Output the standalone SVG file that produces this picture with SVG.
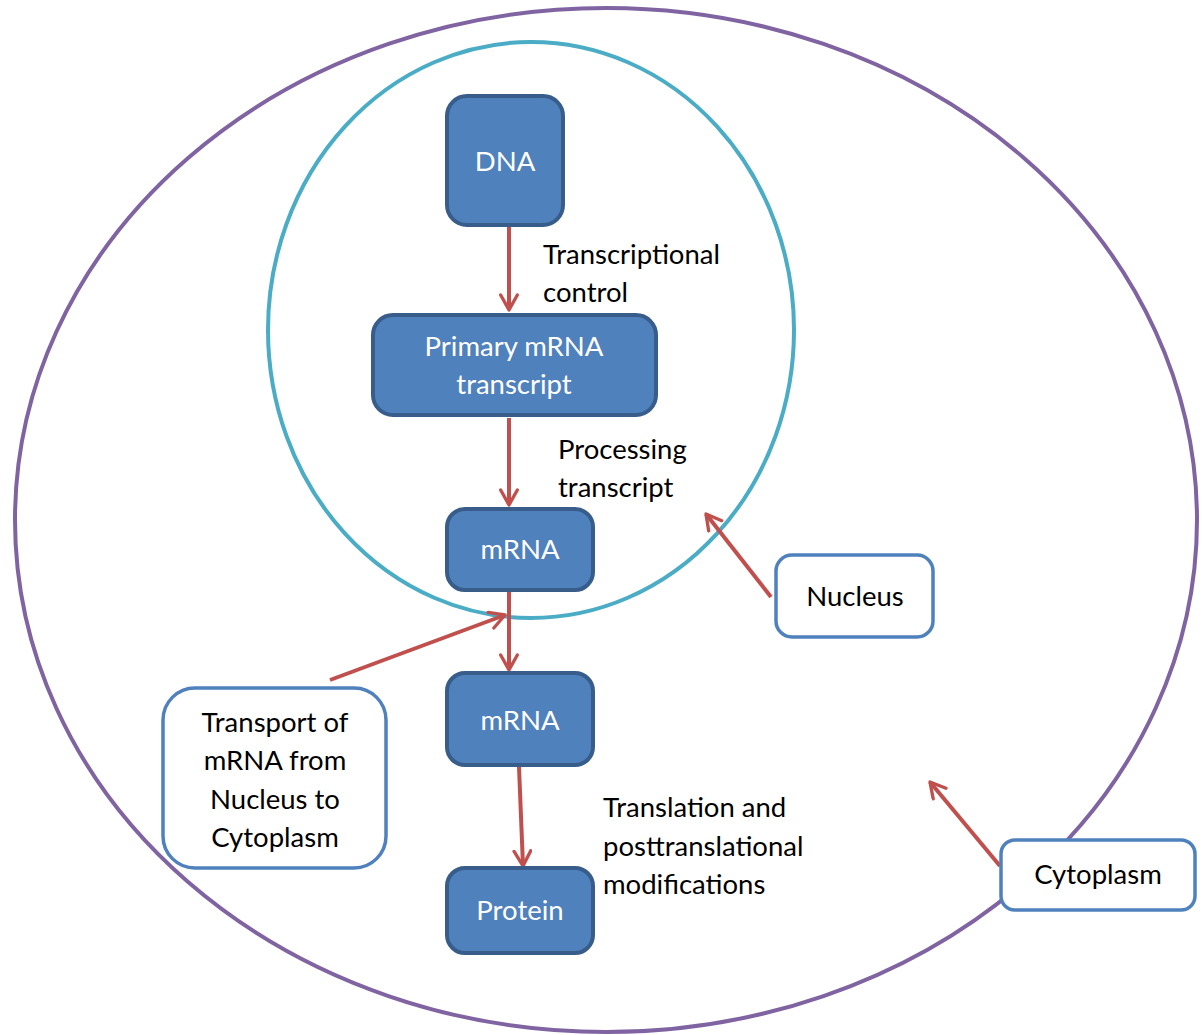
<svg xmlns="http://www.w3.org/2000/svg" width="1203" height="1035" viewBox="0 0 1203 1035">
<style>
.node rect.f{fill:#4F81BD;stroke:#385D8A;stroke-width:4}
.node rect.w{fill:#FFFFFF;stroke:#4F81BD;stroke-width:3.5}
text{font-family:Lato,"Open Sans","Liberation Sans",sans-serif;font-size:27.5px}
.wt{fill:#FFFFFF;text-anchor:middle}
.bt{fill:#000000;text-anchor:middle}
.lt{fill:#000000}
.conn line{stroke:#C0504D;stroke-width:4;fill:none;marker-end:url(#ah)}
</style>
<defs>
<marker id="ah" viewBox="0 0 12 12" refX="10" refY="6" markerWidth="5" markerHeight="5" orient="auto" markerUnits="strokeWidth">
<polyline points="1,1 10,6 1,11" fill="none" stroke="#C0504D" stroke-width="2" stroke-linecap="round" stroke-linejoin="round"/>
</marker>
</defs>
<rect width="1203" height="1035" fill="#FFFFFF"/>
<ellipse id="cell" cx="606" cy="520" rx="591" ry="512" fill="none" stroke="#8064A2" stroke-width="4"/>
<ellipse id="nucleus" cx="531" cy="330" rx="263" ry="288" fill="none" stroke="#4BACC6" stroke-width="4"/>
<g class="conn">
<line x1="509" y1="226" x2="509" y2="310"/>
<line x1="509" y1="418" x2="509" y2="505"/>
<line x1="509" y1="589" x2="509" y2="670"/>
<line x1="519" y1="767" x2="523" y2="866"/>
<line x1="330" y1="680" x2="505" y2="615"/>
<line x1="771" y1="597" x2="706" y2="514"/>
<line x1="1000" y1="866" x2="930" y2="782"/>
</g>
<g id="n-dna" class="node"><rect class="f" x="447" y="96" width="116" height="129" rx="20"/><text class="wt" x="505" y="171">DNA</text></g>
<g id="n-primary" class="node"><rect class="f" x="373" y="315" width="283" height="100" rx="20"/><text class="wt" x="514" y="356">Primary mRNA</text><text class="wt" x="514" y="394">transcript</text></g>
<g id="n-mrna1" class="node"><rect class="f" x="447" y="509" width="146" height="81" rx="18"/><text class="wt" x="520" y="559">mRNA</text></g>
<g id="n-mrna2" class="node"><rect class="f" x="447" y="673" width="146" height="92" rx="18"/><text class="wt" x="520" y="730">mRNA</text></g>
<g id="n-protein" class="node"><rect class="f" x="447" y="868" width="146" height="85" rx="18"/><text class="wt" x="520" y="920">Protein</text></g>
<g id="n-nucleus" class="node"><rect class="w" x="776" y="555" width="157" height="82" rx="16"/><text class="bt" x="855" y="606">Nucleus</text></g>
<g id="n-transport" class="node"><rect class="w" x="163" y="688" width="223" height="180" rx="32"/><text class="bt" x="275" y="732">Transport of</text><text class="bt" x="275" y="770">mRNA from</text><text class="bt" x="275" y="809">Nucleus to</text><text class="bt" x="275" y="847">Cytoplasm</text></g>
<g id="n-cytoplasm" class="node"><rect class="w" x="1001" y="840" width="194" height="70" rx="14"/><text class="bt" x="1098" y="884">Cytoplasm</text></g>
<g id="labels">
<text class="lt" x="543" y="264">Transcriptional</text>
<text class="lt" x="543" y="302">control</text>
<text class="lt" x="558" y="459">Processing</text>
<text class="lt" x="558" y="497">transcript</text>
<text class="lt" x="603" y="817">Translation and</text>
<text class="lt" x="603" y="856">posttranslational</text>
<text class="lt" x="603" y="894">modifications</text>
</g>
</svg>
